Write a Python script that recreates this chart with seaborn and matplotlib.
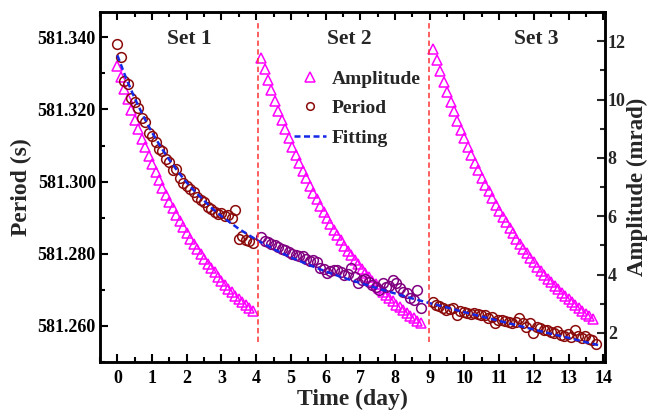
import matplotlib
matplotlib.use("Agg")
import matplotlib.pyplot as plt
from matplotlib.lines import Line2D
from matplotlib.ticker import MultipleLocator, FormatStrFormatter
import seaborn as sns

sns.set_style("ticks")
plt.rcParams["font.family"] = ["Liberation Serif", "DejaVu Serif"]
plt.rcParams["font.weight"] = "bold"
plt.rcParams["axes.labelweight"] = "bold"

# ---- Amplitude (mrad) of each measurement set ----
t_amp1 = [0.0, 0.1, 0.2, 0.3, 0.4, 0.5, 0.6, 0.7, 0.8, 0.9, 1.0, 1.1, 1.2, 1.3,
          1.4, 1.5, 1.6, 1.7, 1.8, 1.9, 2.0, 2.1, 2.2, 2.3, 2.4, 2.5, 2.6, 2.7,
          2.8, 2.9, 3.0, 3.1, 3.2, 3.3, 3.4, 3.5, 3.6, 3.7, 3.8, 3.9]
amp1 = [11.15, 10.76, 10.37, 10.01, 9.65, 9.31, 8.98, 8.66, 8.36, 8.06, 7.78,
        7.50, 7.24, 6.98, 6.73, 6.50, 6.27, 6.04, 5.83, 5.62, 5.42, 5.23, 5.05,
        4.87, 4.70, 4.53, 4.37, 4.22, 4.07, 3.92, 3.78, 3.65, 3.52, 3.40, 3.28,
        3.16, 3.05, 2.94, 2.84, 2.74]

t_amp2 = [4.14, 4.24, 4.34, 4.44, 4.54, 4.64, 4.74, 4.84, 4.94, 5.04, 5.14,
          5.24, 5.34, 5.44, 5.54, 5.64, 5.74, 5.84, 5.94, 6.04, 6.14, 6.24,
          6.34, 6.44, 6.54, 6.64, 6.74, 6.84, 6.94, 7.04, 7.14, 7.24, 7.34,
          7.44, 7.54, 7.64, 7.74, 7.84, 7.94, 8.04, 8.14, 8.24, 8.34, 8.44,
          8.54, 8.64, 8.74]
amp2 = [11.43, 11.04, 10.67, 10.31, 9.96, 9.62, 9.29, 8.98, 8.67, 8.38, 8.09,
        7.82, 7.55, 7.30, 7.05, 6.81, 6.58, 6.36, 6.14, 5.93, 5.73, 5.54, 5.35,
        5.17, 4.99, 4.82, 4.66, 4.50, 4.35, 4.20, 4.06, 3.92, 3.79, 3.66, 3.53,
        3.41, 3.30, 3.19, 3.08, 2.97, 2.87, 2.78, 2.68, 2.59, 2.50, 2.42, 2.34]

t_amp3 = [9.10, 9.20, 9.30, 9.40, 9.50, 9.60, 9.70, 9.80, 9.90, 10.00, 10.10,
          10.20, 10.30, 10.40, 10.50, 10.60, 10.70, 10.80, 10.90, 11.00, 11.10,
          11.20, 11.30, 11.40, 11.50, 11.60, 11.70, 11.80, 11.90, 12.00, 12.10,
          12.20, 12.30, 12.40, 12.50, 12.60, 12.70, 12.80, 12.90, 13.00, 13.10,
          13.20, 13.30, 13.40, 13.50, 13.60, 13.70]
amp3 = [11.74, 11.35, 10.97, 10.61, 10.26, 9.92, 9.59, 9.27, 8.97, 8.67, 8.38,
        8.10, 7.84, 7.58, 7.32, 7.08, 6.85, 6.62, 6.40, 6.19, 5.98, 5.79, 5.59,
        5.41, 5.23, 5.06, 4.89, 4.73, 4.57, 4.42, 4.27, 4.13, 3.99, 3.86, 3.73,
        3.61, 3.49, 3.37, 3.26, 3.15, 3.05, 2.95, 2.85, 2.76, 2.66, 2.58, 2.49]

# ---- Measured period (s) of each set ----
t_per1 = t_amp1
per1 = [581.3380, 581.3345, 581.3280, 581.3271, 581.3232, 581.3220, 581.3204,
        581.3176, 581.3165, 581.3136, 581.3125, 581.3111, 581.3090, 581.3084,
        581.3062, 581.3055, 581.3033, 581.3036, 581.3010, 581.2996, 581.2989,
        581.2980, 581.2972, 581.2956, 581.2950, 581.2944, 581.2930, 581.2923,
        581.2917, 581.2910, 581.2913, 581.2906, 581.2908, 581.2899, 581.2922,
        581.2841, 581.2848, 581.2839, 581.2834, 581.2831]

t_per2 = t_amp2
per2 = [581.2846, 581.2836, 581.2833, 581.2828, 581.2824, 581.2818, 581.2814,
        581.2811, 581.2804, 581.2800, 581.2797, 581.2795, 581.2793, 581.2786,
        581.2780, 581.2783, 581.2776, 581.2760, 581.2757, 581.2746, 581.2751,
        581.2754, 581.2754, 581.2750, 581.2742, 581.2744, 581.2760, 581.2735,
        581.2719, 581.2728, 581.2731, 581.2722, 581.2714, 581.2708, 581.2700,
        581.2719, 581.2709, 581.2712, 581.2728, 581.2719, 581.2705, 581.2695,
        581.2690, 581.2677, 581.2672, 581.2700, 581.2649]

t_per3 = [9.08, 9.18, 9.28, 9.38, 9.48, 9.58, 9.68, 9.78, 9.88, 9.98, 10.08,
          10.18, 10.28, 10.38, 10.48, 10.58, 10.68, 10.78, 10.88, 10.98, 11.08,
          11.18, 11.28, 11.38, 11.48, 11.58, 11.68, 11.78, 11.88, 11.98, 12.08,
          12.18, 12.28, 12.38, 12.48, 12.58, 12.68, 12.78, 12.88, 12.98, 13.08,
          13.18, 13.28, 13.38, 13.48, 13.58, 13.68, 13.78]
per3 = [581.2667, 581.2658, 581.2654, 581.2650, 581.2644, 581.2646, 581.2649,
        581.2631, 581.2640, 581.2638, 581.2637, 581.2634, 581.2636, 581.2632,
        581.2630, 581.2631, 581.2622, 581.2624, 581.2608, 581.2617, 581.2617,
        581.2614, 581.2611, 581.2609, 581.2611, 581.2622, 581.2608, 581.2598,
        581.2609, 581.2580, 581.2598, 581.2594, 581.2589, 581.2590, 581.2584,
        581.2580, 581.2585, 581.2575, 581.2572, 581.2577, 581.2570, 581.2589,
        581.2571, 581.2566, 581.2571, 581.2564, 581.2561, 581.2550]

# ---- Fitted period curve ----
t_fit = [0.0, 0.25, 0.5, 0.75, 1.0, 1.25, 1.5, 1.75, 2.0, 2.25, 2.5, 2.75, 3.0,
         3.5, 4.0, 4.5, 5.0, 5.5, 6.0, 6.5, 7.0, 7.5, 8.0, 8.5, 9.0, 9.5, 10.0,
         10.5, 11.0, 11.5, 12.0, 12.5, 13.0, 13.5, 13.85]
per_fit = [581.3350, 581.3287, 581.3231, 581.3181, 581.3136, 581.3096,
           581.3060, 581.3027, 581.2997, 581.2971, 581.2947, 581.2924,
           581.2904, 581.2869, 581.2839, 581.2813, 581.2790, 581.2770,
           581.2751, 581.2734, 581.2719, 581.2704, 581.2690, 581.2676,
           581.2663, 581.2651, 581.2638, 581.2626, 581.2614, 581.2602,
           581.2590, 581.2578, 581.2567, 581.2555, 581.2547]

set_labels = ["Set 1", "Set 2", "Set 3"]
set_label_x = [2.07, 6.67, 12.07]
set_boundaries = [4.05, 8.97]

AMP_COLOR = "#FF00FF"
PER_COLOR = ["#8B0A0A", "#800080", "#8B0A0A"]
FIT_COLOR = "#1428E6"
MS = 7.0
MEW = 1.1

fig = plt.figure(figsize=(6.52, 4.13), dpi=100)
ax = fig.add_axes([100 / 652, 1 - 362 / 413, 505 / 652, 350 / 413])
ax2 = ax.twinx()
ax.set_zorder(ax2.get_zorder() + 1)
ax.patch.set_visible(False)

# amplitude triangles on the right axis
for t, a in [(t_amp1, amp1), (t_amp2, amp2), (t_amp3, amp3)]:
    sns.lineplot(x=t, y=a, ax=ax2, estimator=None, sort=False, legend=False,
                 linestyle="none", marker="^", markersize=MS,
                 markerfacecolor="none", markeredgecolor=AMP_COLOR,
                 markeredgewidth=MEW, color=AMP_COLOR)

# period circles on the left axis
for (t, p), c in zip([(t_per1, per1), (t_per2, per2), (t_per3, per3)], PER_COLOR):
    sns.lineplot(x=t, y=p, ax=ax, estimator=None, sort=False, legend=False,
                 linestyle="none", marker="o", markersize=MS,
                 markerfacecolor="none", markeredgecolor=c,
                 markeredgewidth=MEW, color=c)

# fitted curve
sns.lineplot(x=t_fit, y=per_fit, ax=ax, estimator=None, sort=False,
             legend=False, color=FIT_COLOR, linewidth=1.8,
             linestyle=(0, (2.4, 1.4)))

# set boundaries
ax.vlines(set_boundaries, 581.2556, 581.3441, colors="#FF3333",
          linestyles=(0, (3.5, 2.2)), linewidth=1.1)

for lab, x in zip(set_labels, set_label_x):
    ax.text(x, 581.3395, lab, ha="center", va="center", fontsize=15.5,
            fontweight="bold")

ax.set_xlim(-0.5, 14.05)
ax.set_ylim(581.250, 581.347)
ax2.set_ylim(1, 13)

ax.xaxis.set_major_locator(MultipleLocator(1))
ax.xaxis.set_minor_locator(MultipleLocator(0.5))
ax.yaxis.set_major_locator(MultipleLocator(0.02))
ax.yaxis.set_minor_locator(MultipleLocator(0.01))
ax.yaxis.set_major_formatter(FormatStrFormatter("%.3f"))
ax2.yaxis.set_major_locator(MultipleLocator(2))
ax2.yaxis.set_minor_locator(MultipleLocator(1))

ax.tick_params(axis="both", which="both", direction="in", width=1.5,
               labelsize=13, top=True, right=False, colors="black")
ax.tick_params(which="major", length=6)
ax.tick_params(which="minor", length=3.5)
ax.tick_params(axis="x", pad=6)
ax.tick_params(axis="y", pad=3)
ax2.tick_params(axis="y", which="both", direction="in", width=1.5,
                labelsize=13, right=True, left=False, pad=2)
ax2.tick_params(which="major", length=6)
ax2.tick_params(which="minor", length=3.5)

for a in (ax, ax2):
    for s in a.spines.values():
        s.set_linewidth(1.8)
        s.set_color("black")

ax.set_xlabel("Time (day)", fontsize=17, labelpad=1)
ax.set_ylabel("Period (s)", fontsize=17, labelpad=4)
ax2.set_ylabel("Amplitude (mrad)", fontsize=16.5, labelpad=1)

handles = [
    Line2D([], [], linestyle="none", marker="^", markersize=MS,
           markerfacecolor="none", markeredgecolor=AMP_COLOR,
           markeredgewidth=MEW),
    Line2D([], [], linestyle="none", marker="o", markersize=5.5,
           markerfacecolor="none", markeredgecolor=PER_COLOR[0],
           markeredgewidth=MEW),
    Line2D([], [], color=FIT_COLOR, linewidth=1.8, linestyle=(0, (2.4, 1.4))),
]
ax.legend(handles, ["Amplitude", "Period", "Fitting"], loc="upper left",
          bbox_to_anchor=(294 / 652, 1 - 70 / 413),
          bbox_transform=fig.transFigure, frameon=False, fontsize=14,
          handlelength=1.65, handletextpad=0.3, labelspacing=0.62,
          borderpad=0, borderaxespad=0)

fig.savefig("out.png", dpi=100)
